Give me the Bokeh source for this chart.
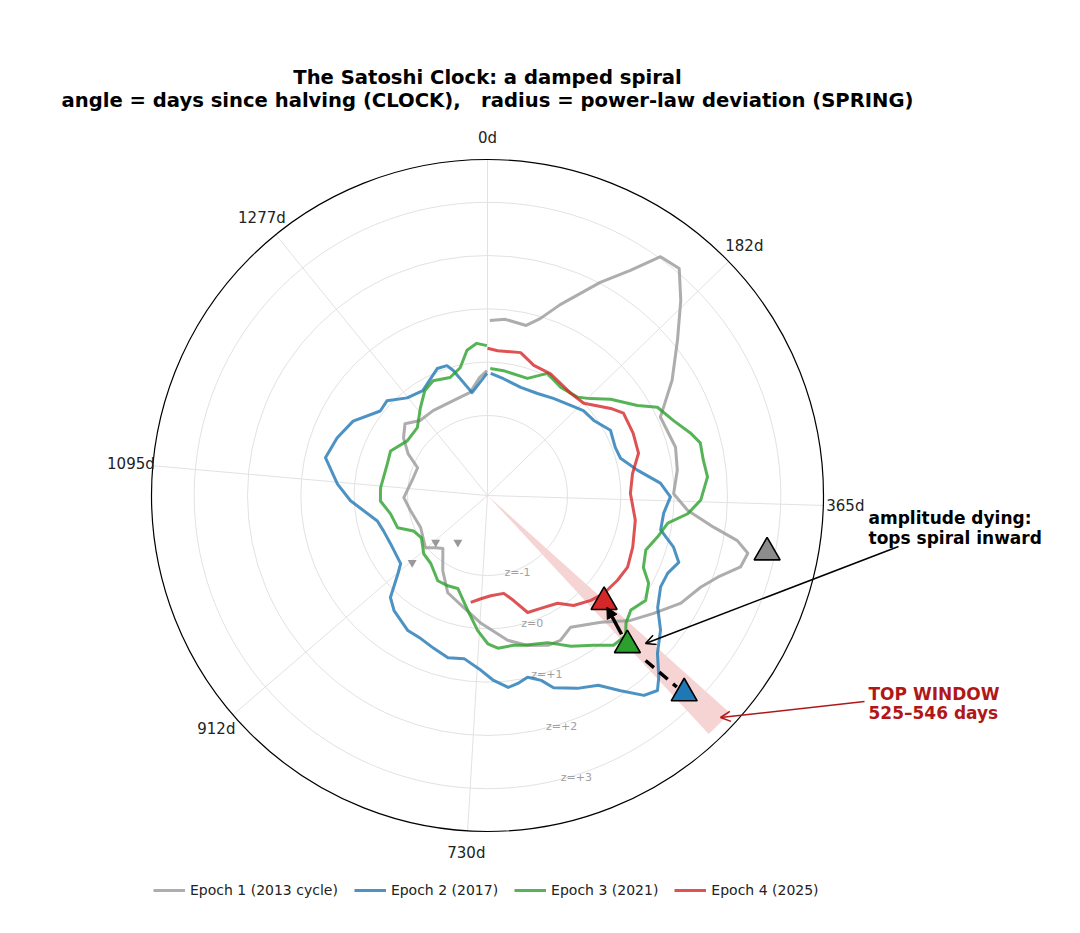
import numpy as np
from bokeh.plotting import figure
from bokeh.models import Range1d, Arrow, NormalHead, OpenHead, Legend, LegendItem
from bokeh.core.properties import value
from bokeh.embed import file_html
from bokeh.resources import INLINE

# ---------------- data (days since halving, power-law deviation z) ----------------
PERIOD_DAYS = 1433.0
R_MIN, R_MAX = -2.5, 3.8

epoch1_days = [3, 23, 51, 66, 83, 111, 129, 143, 160, 178, 202, 231, 255, 261, 301, 328, 356, 375,
               390, 399, 408, 421, 436, 451, 474, 499, 522, 550, 588, 610, 629, 657, 685, 728, 764,
               805, 839, 876, 895, 915, 973, 1030, 1069, 1129, 1161, 1185, 1212, 1238, 1266, 1303,
               1354, 1395, 1418, 1432]
epoch1_z = [0.78, 0.82, 0.77, 0.96, 1.33, 2.02, 2.50, 3.03, 3.07, 2.65, 2.10, 1.58, 1.15, 1.06, 1.14,
            1.09, 0.99, 1.26, 1.78, 2.26, 2.50, 2.43, 2.08, 1.85, 1.65, 1.32, 1.06, 0.69, 0.42, 0.54,
            0.53, 0.41, 0.24, -0.10, -0.35, -0.53, -0.86, -1.20, -1.12, -0.98, -1.11, -1.03, -0.93,
            -1.07, -1.09, -0.82, -0.59, -0.45, -0.61, -0.61, -0.61, -0.54, -0.28, -0.16]

epoch2_days = [6, 31, 68, 104, 136, 170, 193, 218, 247, 276, 296, 320, 342, 360, 381, 403, 420, 435,
               451, 469, 491, 509, 529, 544, 553, 565, 580, 596, 617, 641, 652, 667, 680, 692, 709,
               725, 749, 771, 793, 816, 838, 872, 890, 911, 923, 969, 1000, 1023, 1066, 1092, 1127,
               1158, 1190, 1227, 1247, 1276, 1307, 1347, 1364, 1372, 1399, 1432]
epoch2_z = [-0.21, -0.29, -0.38, -0.37, -0.30, -0.20, -0.10, -0.06, 0.11, 0.06, 0.09, 0.35, 0.75,
            0.93, 0.82, 0.81, 1.12, 1.30, 1.18, 1.17, 1.32, 1.61, 1.85, 2.18, 2.35, 2.26, 1.93, 1.62,
            1.49, 1.31, 1.11, 0.99, 1.07, 1.12, 0.97, 0.78, 0.59, 0.63, 0.54, 0.46, 0.44, 0.28, 0.14,
            -0.27, -0.43, -0.47, -0.44, -0.38, 0.07, 0.32, 0.62, 0.52, 0.38, 0.06, 0.09, -0.13,
            -0.19, 0.06, 0.05, -0.07, -0.55, -0.21]

epoch3_days = [5, 29, 75, 104, 136, 169, 186, 207, 235, 249, 271, 290, 303, 321, 339, 363, 379, 393,
               413, 434, 457, 472, 492, 512, 528, 539, 557, 576, 601, 628, 662, 677, 701, 716, 733,
               755, 787, 811, 837, 875, 906, 945, 973, 996, 1032, 1063, 1091, 1145, 1173, 1211,
               1250, 1284, 1310, 1332, 1363, 1385, 1401, 1417, 1432]
epoch3_z = [-0.12, -0.14, -0.18, 0.05, -0.05, 0.00, 0.15, 0.43, 0.78, 1.09, 1.26, 1.48, 1.61, 1.60,
            1.64, 1.50, 1.27, 0.92, 0.78, 0.64, 0.72, 0.94, 1.06, 0.94, 1.03, 1.19, 1.17, 0.94, 0.73,
            0.48, 0.39, 0.35, 0.37, 0.28, 0.04, -0.31, -0.67, -0.65, -0.65, -0.84, -0.88, -1.03,
            -0.96, -0.71, -0.65, -0.49, -0.49, -0.53, -0.50, -0.68, -0.67, -0.43, -0.21, -0.12,
            -0.18, -0.05, 0.25, 0.36, 0.31]

epoch4_days = [0, 16, 52, 78, 109, 156, 184, 218, 234, 266, 296, 324, 355, 396, 436, 466, 490, 518,
               539, 565, 585, 616, 641, 661, 679, 709, 731, 752]
epoch4_z = [0.26, 0.22, 0.25, 0.09, 0.07, -0.03, 0.00, 0.33, 0.48, 0.47, 0.44, 0.25, 0.18, 0.31,
            0.39, 0.45, 0.41, 0.35, 0.26, 0.12, -0.09, -0.16, -0.18, -0.47, -0.64, -0.62, -0.56,
            -0.47]

epoch_labels = ["Epoch 1 (2013 cycle)", "Epoch 2 (2017)", "Epoch 3 (2021)", "Epoch 4 (2025)"]
epoch_colors = ["#999999", "#1f77b4", "#2ca02c", "#d62728"]
peak_marker_colors = ["#8c8c8c", "#1f77b4", "#2ca02c", "#d62728"]

peak_days = [404, 538, 545, 527]
peak_z = [2.85, 2.73, 1.34, 0.46]

bottom_days = [907, 845, 909]
bottom_z = [-1.19, -1.46, -0.61]

window_days = [525, 546]
window_z = 3.6

theta_tick_days = [0, 182.5, 365, 730, 912.5, 1095, 1277.5]
theta_tick_labels = ["0d", "182d", "365d", "730d", "912d", "1095d", "1277d"]
r_ticks = [-1, 0, 1, 2, 3]
r_tick_labels = ["z=-1", "z=0", "z=+1", "z=+2", "z=+3"]

# ---------------- geometry ----------------
W, H = 1064, 917
CX, CY = 487, 495            # polar centre inside the canvas (px from left / top)
R_OUTER_PX = 336.0
SCALE = R_OUTER_PX / (R_MAX - R_MIN)
FONT_NAME = "DejaVu Sans"
FONT = value(FONT_NAME)


def polar_xy(days, z):
    th = 2 * np.pi * np.asarray(days, float) / PERIOD_DAYS
    r = (np.asarray(z, float) - R_MIN) * SCALE
    return r * np.sin(th), r * np.cos(th)


def page(px, py):
    return px - CX, CY - py


p = figure(width=W, height=H, x_range=Range1d(-CX, W - CX), y_range=Range1d(-(H - CY), CY),
           x_axis_type=None, y_axis_type=None, output_backend="svg", toolbar_location=None,
           min_border=0)
p.grid.visible = False
p.outline_line_color = None
p.background_fill_color = "white"
p.border_fill_color = "white"

# top window wedge
th1, th2 = [2 * np.pi * d / PERIOD_DAYS for d in window_days]
p.wedge(x=[0], y=[0], radius=[(window_z - R_MIN) * SCALE],
        start_angle=[np.pi / 2 - th2], end_angle=[np.pi / 2 - th1], direction="anticlock",
        fill_color="#d62728", fill_alpha=0.2, line_color=None)

# grid
ring_r = [(z - R_MIN) * SCALE for z in r_ticks]
p.circle(x=[0] * len(ring_r), y=[0] * len(ring_r), radius=ring_r, fill_color=None,
         line_color="#e2e2e2", line_width=1)
sx, sy = polar_xy(theta_tick_days, [R_MAX] * len(theta_tick_days))
p.segment(x0=[0] * len(sx), y0=[0] * len(sx), x1=sx, y1=sy, line_color="#e2e2e2", line_width=1)
p.circle(x=[0], y=[0], radius=[R_OUTER_PX], fill_color=None, line_color="black", line_width=1.2)

# theta tick labels
lab_r = 358.0
th = 2 * np.pi * np.asarray(theta_tick_days) / PERIOD_DAYS
p.text(x=lab_r * np.sin(th), y=lab_r * np.cos(th), text=theta_tick_labels, text_font=FONT,
       text_font_size="15px", text_color="#222222", text_align="center", text_baseline="middle")

# radial labels
zl_th = np.deg2rad(164.0)
p.text(x=np.array(ring_r) * np.sin(zl_th), y=np.array(ring_r) * np.cos(zl_th), text=r_tick_labels,
       text_font=FONT, text_font_size="11px", text_color="#a0a0a0", text_align="center",
       text_baseline="middle", x_offset=8)

# epoch curves
series = [(epoch1_days, epoch1_z), (epoch2_days, epoch2_z), (epoch3_days, epoch3_z),
          (epoch4_days, epoch4_z)]
renderers = []
for (d, z), col in zip(series, epoch_colors):
    x, y = polar_xy(d, z)
    r = p.line(x, y, line_color=col, line_alpha=0.8, line_width=3, line_join="round")
    renderers.append(r)

# bottoms (small markers)
bx, by = polar_xy(bottom_days, bottom_z)
p.scatter(bx, by, marker="inverted_triangle", size=9, fill_color="#999999", line_color=None)

# peak markers
px_, py_ = polar_xy(peak_days, peak_z)
p.scatter(px_, py_, marker="triangle", size=26, fill_color=peak_marker_colors,
          line_color="black", line_width=1.6)

# spiral-inward arrows between peaks (blue -> green dashed, green -> red solid)
gx, gy = px_[2], py_[2]
rx, ry = px_[3], py_[3]
bx2, by2 = px_[1], py_[1]
p.add_layout(Arrow(end=NormalHead(size=11, fill_color="black", line_color="black", line_width=1),
                   x_start=gx + 0.25 * (rx - gx), y_start=gy + 0.25 * (ry - gy),
                   x_end=gx + 0.88 * (rx - gx), y_end=gy + 0.88 * (ry - gy),
                   line_color="black", line_width=3.5))
p.add_layout(Arrow(end=None,
                   x_start=gx + 0.32 * (bx2 - gx), y_start=gy + 0.32 * (by2 - gy),
                   x_end=gx + 0.87 * (bx2 - gx), y_end=gy + 0.87 * (by2 - gy),
                   line_color="black", line_width=3.5, line_dash="11 7"))

# annotations
def label(px, py, txt, size, color="black", bold=False, align="left"):
    x, y = page(px, py)
    p.text(x=[x], y=[y], text=[txt], text_font=FONT, text_font_size=size,
           text_font_style="bold" if bold else "normal", text_color=color,
           text_align=align, text_baseline="alphabetic")


ax0, ay0 = page(898, 546)
ax1, ay1 = page(645, 643)
p.add_layout(Arrow(end=OpenHead(size=10, line_color="black", line_width=1.5),
                   x_start=ax0, y_start=ay0, x_end=ax1, y_end=ay1,
                   line_color="black", line_width=1.5))
label(868, 517, "amplitude dying:", "17px", bold=True)
label(868, 537, "tops spiral inward", "17px", bold=True)

dark_red = "#b01818"
ax0, ay0 = page(864, 701)
ax1, ay1 = page(720, 717)
p.add_layout(Arrow(end=OpenHead(size=10, line_color=dark_red, line_width=1.5),
                   x_start=ax0, y_start=ay0, x_end=ax1, y_end=ay1,
                   line_color=dark_red, line_width=1.5))
label(868, 693, "TOP WINDOW", "17px", color=dark_red, bold=True)
label(868, 712, "525\u2013546 days", "17px", color=dark_red, bold=True)

# title
label(487, 77, "The Satoshi Clock: a damped spiral", "19.6px", bold=True, align="center")
label(487, 100, "angle = days since halving (CLOCK),\u00a0\u00a0 radius = power-law deviation (SPRING)",
      "19.6px", bold=True, align="center")

# legend
legend = Legend(items=[LegendItem(label=l, renderers=[r]) for l, r in zip(epoch_labels, renderers)],
                orientation="horizontal", location=(153, 17), padding=0, margin=0, spacing=16,
                glyph_width=32, label_standoff=5, label_text_font=FONT_NAME,
                label_text_font_size="14px", label_text_color="#222222",
                border_line_color=None, background_fill_alpha=0)
p.add_layout(legend, "center")

open("out.html", "w").write(file_html(p, INLINE))
